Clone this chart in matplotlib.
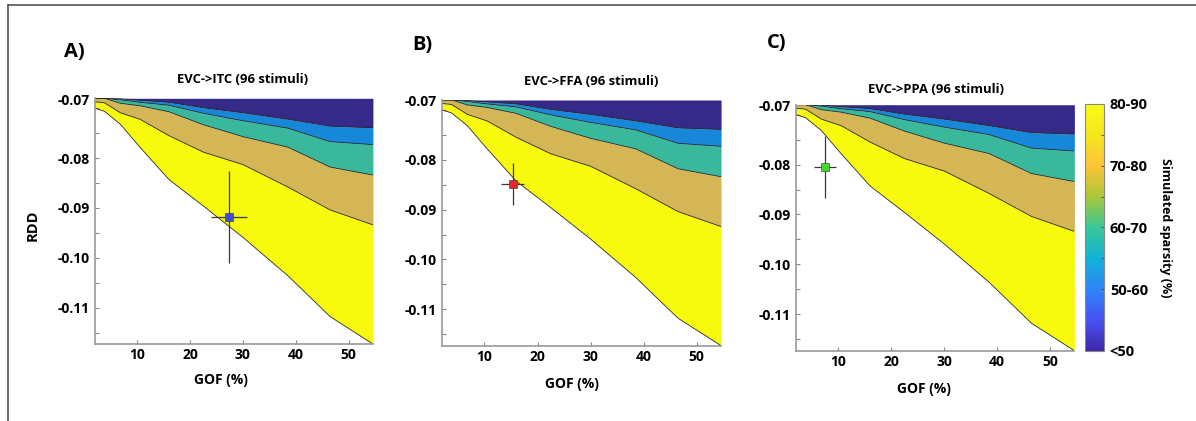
import numpy as np
import matplotlib
matplotlib.use("Agg")
import matplotlib.pyplot as plt
from matplotlib.colors import LinearSegmentedColormap
from matplotlib.lines import Line2D
from matplotlib.cm import ScalarMappable
from matplotlib.colors import Normalize

plt.rcParams['font.family'] = ['Open Sans', 'DejaVu Sans']
plt.rcParams['font.weight'] = 'bold'

# contour boundaries (GOF grid, RDD of each sparsity level), same for all panels
gof_grid = [2, 3.8, 6.8, 10.5, 16, 22.5, 30, 38.5, 46.5, 54.6]
rdd_top = -0.068
b_50 = [-0.068, -0.068, -0.0681, -0.0684, -0.0688, -0.0699, -0.0709, -0.0722, -0.0736, -0.0739]
b_60 = [-0.068, -0.068, -0.0683, -0.0688, -0.0694, -0.0710, -0.0725, -0.0740, -0.0767, -0.0773]
b_70 = [-0.068, -0.0680, -0.0690, -0.0695, -0.0707, -0.0733, -0.0757, -0.0778, -0.0818, -0.0834]
b_80 = [-0.0687, -0.0689, -0.0709, -0.0722, -0.0755, -0.0788, -0.0813, -0.0858, -0.0904, -0.0934]
b_90 = [-0.0700, -0.0706, -0.0732, -0.0778, -0.0843, -0.0896, -0.0959, -0.1036, -0.1118, -0.1173]

# observed points
panel_letters = ['A)', 'B)', 'C)']
panel_titles = ['EVC->ITC (96 stimuli)', 'EVC->FFA (96 stimuli)', 'EVC->PPA (96 stimuli)']
obs_gof = [27.4, 15.3, 7.5]
obs_rdd = [-0.0918, -0.0848, -0.0804]
obs_gof_err = [3.4, 2.2, 2.05]
obs_rdd_err = [0.0093, 0.0042, 0.0062]
obs_colors = ['#3d4fd8', '#e8242e', '#3fdc2a']

cbar_labels = ['<50', '50-60', '60-70', '70-80', '80-90']
band_colors = ['#352a87', '#1787d9', '#3ab89b', '#d5b656', '#f8fa0d']

parula = LinearSegmentedColormap.from_list('parula', [
    (0.2422, 0.1504, 0.6603), (0.2810, 0.3228, 0.9579), (0.1786, 0.5289, 0.9682),
    (0.0689, 0.6948, 0.8394), (0.2161, 0.7843, 0.5923), (0.6720, 0.7793, 0.2227),
    (0.9970, 0.7659, 0.2199), (0.9553, 0.9018, 0.1186), (0.9769, 0.9839, 0.0805)])

fig = plt.figure(figsize=(11.96, 4.21), dpi=100)

ax_pos = [[0.0794, 0.1829, 0.2324, 0.5836],
          [0.3696, 0.1789, 0.2333, 0.5836],
          [0.6656, 0.1670, 0.2327, 0.5843]]
title_pos = [(0.531, 1.0745), (0.533, 1.0745), (0.504, 1.0626)]
xlab_pos = [(0.454, -0.119), (0.465, -0.126), (0.461, -0.126)]
letter_pos = [(0.0619, 0.8765), (0.353, 0.893), (0.649, 0.898)]

x = np.array(gof_grid)
bounds = [np.full(len(x), rdd_top), b_50, b_60, b_70, b_80, b_90]

for i in range(3):
    ax = fig.add_axes(ax_pos[i])
    for k in range(5):
        ax.fill_between(x, bounds[k + 1], bounds[k], color=band_colors[k], lw=0)
    for k in range(1, 6):
        ax.plot(x, bounds[k], color='#2a2a2a', lw=0.6)
    ax.errorbar(obs_gof[i], obs_rdd[i], xerr=obs_gof_err[i], yerr=obs_rdd_err[i],
                fmt='s', ms=5.5, mfc=obs_colors[i], mec='#333333', mew=0.4,
                ecolor='#3a3a3a', elinewidth=0.9, capsize=0, zorder=5)
    ax.set_xlim(2, 54.6)
    ax.set_ylim(-0.1173, rdd_top)
    ax.set_xticks([10, 20, 30, 40, 50])
    ax.set_yticks([-0.07, -0.08, -0.09, -0.10, -0.11])
    ax.set_yticklabels(['', '-0.08', '-0.09', '-0.10', '-0.11'])
    ax.set_yticks(np.arange(-0.115, -0.069, 0.01), minor=True)
    ax.tick_params(direction='in', length=3, width=0.8, color='#888888', labelsize=10, pad=4)
    ax.tick_params(axis='x', pad=3)
    ax.tick_params(which='minor', direction='in', length=3, width=0.8, color='#888888')
    ax.annotate('-0.07', xy=(0, -0.07), xycoords=('axes fraction', 'data'),
                xytext=(-4, 5.5), textcoords='offset points', ha='right', va='center',
                fontsize=10, fontweight='bold')
    for s in ['top', 'right']:
        ax.spines[s].set_visible(False)
    for s in ['left', 'bottom']:
        ax.spines[s].set_color('#999999')
        ax.spines[s].set_linewidth(1.2)
    ax.text(title_pos[i][0], title_pos[i][1], panel_titles[i], transform=ax.transAxes,
            ha='center', va='center', fontsize=9.4, fontweight='bold')
    ax.set_xlabel('GOF (%)', fontsize=10, fontweight='bold')
    ax.xaxis.set_label_coords(*xlab_pos[i])
    if i == 0:
        ax.set_ylabel('RDD', fontsize=10.5, fontweight='bold')
        ax.yaxis.set_label_coords(-0.200, 0.484)
    fig.text(letter_pos[i][0], letter_pos[i][1], panel_letters[i], ha='center', va='center',
             fontsize=14.5, fontweight='bold')

# colorbar
cax = fig.add_axes([0.9069, 0.1670, 0.0164, 0.586])
cb = fig.colorbar(ScalarMappable(norm=Normalize(0, 1), cmap=parula), cax=cax)
cb.set_ticks([0, 0.25, 0.5, 0.75, 1])
cb.set_ticklabels(cbar_labels)
cax.set_yticks(np.arange(0.125, 1, 0.25), minor=True)
cax.tick_params(direction='in', length=2.5, width=0.7, color='#555555', labelsize=10.5, pad=4)
cax.tick_params(which='minor', direction='in', length=2.5, width=0.7, color='#555555')
cb.outline.set_edgecolor('#888888')
cb.outline.set_linewidth(0.8)
cb.set_label('Simulated sparsity (%)', rotation=270, fontsize=9, fontweight='bold')
cax.yaxis.set_label_coords(4.44, 0.5)

# frame lines of the figure
fig.add_artist(Line2D([7.5 / 1196, 7.5 / 1196], [0, 1 - 5 / 421], color='#555555', lw=1.2))
fig.add_artist(Line2D([7.5 / 1196, 1], [1 - 5 / 421, 1 - 5 / 421], color='#555555', lw=1.2))

fig.savefig('out.png', dpi=100)
